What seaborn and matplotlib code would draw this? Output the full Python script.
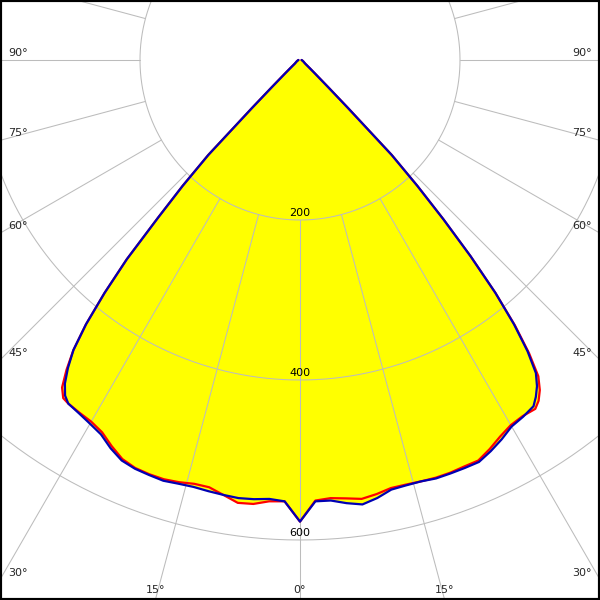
import numpy as np
import pandas as pd
import matplotlib
matplotlib.use("Agg")
import matplotlib.pyplot as plt
import seaborn as sns

# ---- data (gamma angle in degrees, luminous intensity in cd) ----
angles = [-90, -70, -55, -50, -48, -46, -45, -44, -43, -42, -41, -40, -39, -38, -37,
          -36, -35, -34, -32, -30, -28, -26, -24, -22, -20, -18, -16, -14, -12, -10,
          -8, -6, -4, -2, 0, 2, 4, 6, 8, 10, 12, 14, 16, 18, 20, 22, 24, 26, 28, 30,
          32, 34, 35, 36, 37, 38, 39, 40, 41, 42, 43, 44, 45, 46, 48, 50, 55, 70, 90]

blue_cd = [2, 4, 8, 16, 25, 50, 85, 165, 215, 265, 330, 380, 425, 460, 482,
           500, 512, 518, 521, 525, 530, 540, 548, 551, 552, 553, 551, 550, 551, 552,
           553, 552, 550, 552, 577, 552, 552, 557, 561, 556, 549, 548, 548, 550, 550,
           550, 550, 544, 537, 529, 526, 522, 514, 504, 490, 462, 425, 380, 325, 268,
           215, 165, 85, 50, 25, 16, 8, 4, 2]

red_cd = [2, 4, 8, 16, 25, 50, 85, 165, 215, 265, 330, 380, 425, 460, 485,
          506, 516, 518, 520, 522, 527, 537, 546, 550, 551, 551, 549, 546, 546, 552,
          559, 558, 553, 552, 577, 551, 549, 551, 554, 551, 547, 547, 548, 549, 549,
          548, 548, 541, 533, 527, 525, 526, 520, 510, 495, 465, 427, 380, 325, 268,
          215, 165, 85, 50, 25, 16, 8, 4, 2]

ring_values = [200, 400, 600, 800]
ring_labels = ["200", "400", "600"]
spoke_angles = list(range(-180, 181, 15))
angle_labels = [0, 15, 30, 45, 60, 75, 90]

# ---- layout (data units: cd) ----
XMIN, XMAX = -375, 375
YMIN, YMAX = -675, 75
PX = 750 / 600.0  # data units per pixel

sns.set_style("white")
plt.rcParams["font.family"] = ["DejaVu Sans"]

fig = plt.figure(figsize=(6, 6), dpi=100)
ax = fig.add_axes([0, 0, 1, 1])


def to_xy(ang, val):
    a = np.radians(np.asarray(ang, dtype=float))
    v = np.asarray(val, dtype=float)
    return v * np.sin(a), -v * np.cos(a)


bx, by = to_xy(angles, blue_cd)
rx, ry = to_xy(angles, red_cd)

# yellow fill (union of both planes)
ax.fill(bx, by, color="#FFFF00", lw=0, zorder=1)
ax.fill(rx, ry, color="#FFFF00", lw=0, zorder=1)

grid_col = "#BCBCBC"
# rings
t = np.linspace(0, 2 * np.pi, 721)
for r in ring_values:
    ax.plot(r * np.sin(t), r * np.cos(t), color=grid_col, lw=0.75, zorder=2)
# spokes (starting at the first ring)
for a in spoke_angles:
    sx, sy = to_xy([a, a], [ring_values[0], 1200])
    ax.plot(sx, sy, color=grid_col, lw=0.75, zorder=2)

# curves
df = pd.DataFrame({
    "x": np.concatenate([rx, bx]),
    "y": np.concatenate([ry, by]),
    "plane": ["C0-C180"] * len(rx) + ["C90-C270"] * len(bx),
})
sns.lineplot(data=df[df.plane == "C0-C180"], x="x", y="y", sort=False,
             estimator=None, color="#FF0000", lw=1.6, ax=ax, zorder=4, legend=False)
sns.lineplot(data=df[df.plane == "C90-C270"], x="x", y="y", sort=False,
             estimator=None, color="#0000B4", lw=1.6, ax=ax, zorder=5, legend=False)

# ring labels
for r, lab in zip(ring_values, ring_labels):
    ax.text(0, -r + 2 * PX, lab, ha="center", va="bottom", fontsize=8,
            color="black", zorder=6)

# angle labels on the frame
for a in angle_labels:
    ar = np.radians(a)
    if a == 0:
        ax.text(0, YMIN + 5 * PX, "0°", ha="center", va="bottom", fontsize=8, zorder=6)
        continue
    for side in [1, -1]:
        yy = 0 if a == 90 else -375 / np.tan(ar)
        if yy >= YMIN + 20 * PX:
            xt = XMIN + 8 * PX if side < 0 else XMAX - 8 * PX
            ax.text(xt, yy + 2 * PX, f"{a}°", ha="left" if side < 0 else "right",
                    va="bottom", fontsize=8, zorder=6)
        else:
            xb = -YMIN * np.tan(ar) * side
            ax.text(xb, YMIN + 5 * PX, f"{a}°", ha="center", va="bottom",
                    fontsize=8, zorder=6)

ax.set_xlim(XMIN, XMAX)
ax.set_ylim(YMIN, YMAX)
ax.set_aspect("auto")
ax.set_xticks([])
ax.set_yticks([])
ax.set_xlabel("")
ax.set_ylabel("")
for s in ax.spines.values():
    s.set_visible(True)
    s.set_color("black")
    s.set_linewidth(3)

fig.savefig("out.png", dpi=100, facecolor="white")
